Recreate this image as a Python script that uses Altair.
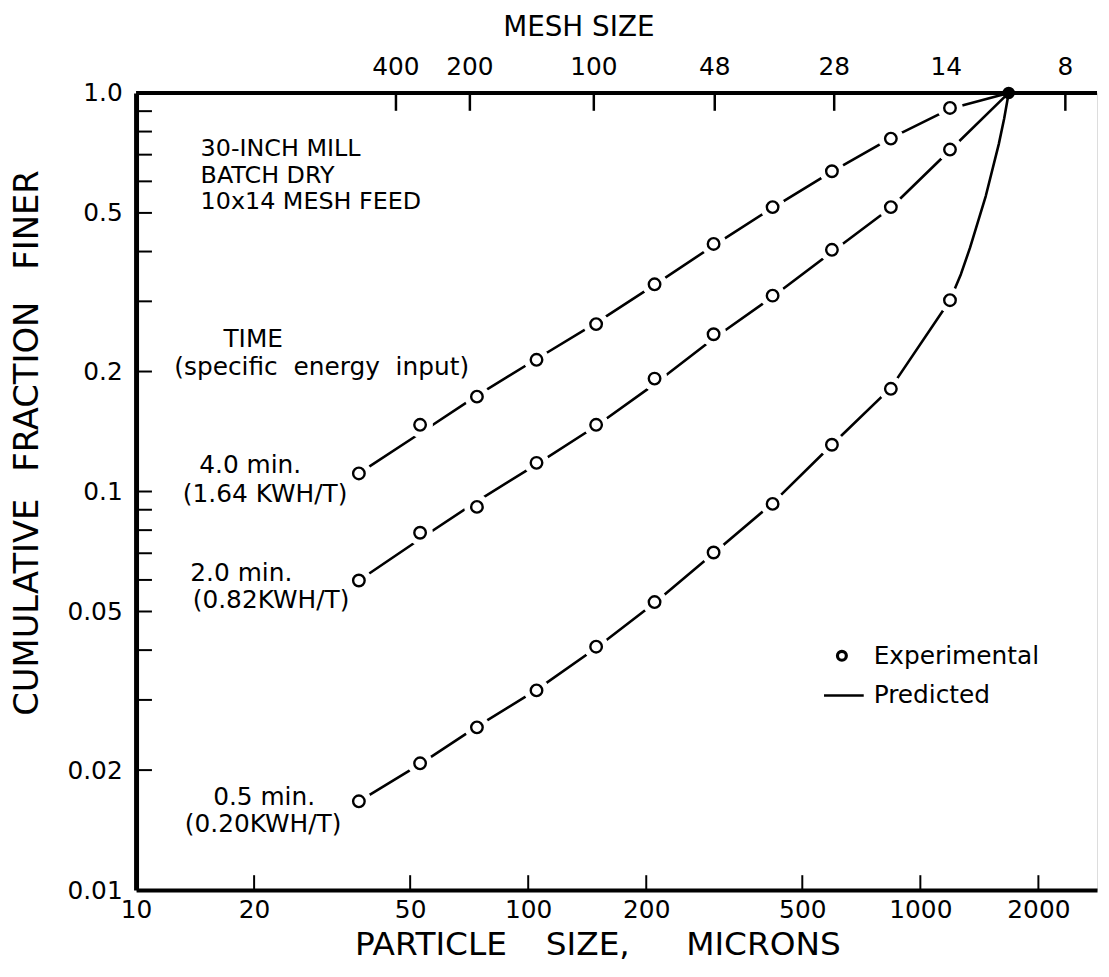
import altair as alt
import pandas as pd

# particle sizes (microns) of the sieve fractions
sizes = [37, 53, 74, 105, 149, 210, 297, 420, 595, 841, 1190, 1680]
series_names = ["4.0 min", "2.0 min", "0.5 min"]
# experimental cumulative fraction finer
e_40 = [0.111, 0.147, 0.173, 0.214, 0.263, 0.331, 0.418, 0.517, 0.636, 0.768, 0.917, 1.0]
e_20 = [0.0598, 0.0788, 0.0915, 0.118, 0.147, 0.192, 0.248, 0.310, 0.404, 0.517, 0.721, 1.0]
e_05 = [0.0167, 0.0208, 0.0256, 0.0317, 0.0408, 0.0528, 0.0703, 0.0931, 0.131, 0.181, 0.302, 1.0]
# predicted curves
ps_40 = [37, 53, 74, 105, 149, 210, 297, 420, 595, 841, 1190, 1680]
p_40 = [0.111, 0.140, 0.174, 0.215, 0.265, 0.330, 0.414, 0.515, 0.635, 0.770, 0.912, 1.0]
ps_20 = [37, 53, 74, 105, 149, 210, 297, 420, 595, 841, 1190, 1680]
p_20 = [0.0598, 0.0760, 0.0945, 0.1170, 0.1460, 0.1860, 0.2420, 0.3080, 0.3990, 0.5150, 0.7180, 1.0]
ps_05 = [37, 53, 74, 105, 149, 210, 297, 420, 595, 841, 1190, 1269, 1339, 1469, 1585, 1636, 1680]
p_05 = [0.0167, 0.0207, 0.0257, 0.0318, 0.0405, 0.0525, 0.0700, 0.0935, 0.1310, 0.1820, 0.3020,
        0.351, 0.409, 0.552, 0.744, 0.863, 1.0]

x_ticks = [10, 20, 50, 100, 200, 500, 1000, 2000]
x_inner_ticks = [20, 50, 100, 200, 500, 1000, 2000]
y_labels = [1.0, 0.5, 0.2, 0.1, 0.05, 0.02, 0.01]
y_minor = [0.9, 0.8, 0.7, 0.6, 0.5, 0.4, 0.3, 0.2, 0.1, 0.09, 0.08, 0.07, 0.06, 0.05, 0.04, 0.03, 0.02]
mesh_labels = ["400", "200", "100", "48", "28", "14", "8"]
mesh_pos = [46, 71, 147, 299, 603, 1164, 2343]
mesh_tick_pos = [46, 71, 147, 299, 603, 2343]

W, H = 968, 803
FONT = "DejaVu Sans"
NB = "\u00a0"

erows, prows = [], []
for name, ev in zip(series_names, [e_40, e_20, e_05]):
    for s, e in zip(sizes, ev):
        erows.append({"series": name, "size": s, "frac": e})
for name, sv, pv in zip(series_names, [ps_40, ps_20, ps_05], [p_40, p_20, p_05]):
    for i, (s, p) in enumerate(zip(sv, pv)):
        prows.append({"series": name, "size": s, "frac": p, "order": i})
edf = pd.DataFrame(erows)
pdf = pd.DataFrame(prows)

xs = alt.Scale(type="log", domain=[10, 2822], nice=False)
ys = alt.Scale(type="log", domain=[0.01, 1.0], nice=False)

X = alt.X("size:Q", scale=xs,
          axis=alt.Axis(values=x_ticks, format="d", ticks=False, grid=False, title=None,
                        domainColor="black", domainWidth=4, labelFontSize=25, labelFont=FONT,
                        labelColor="black", labelPadding=8, labelFlush=False, labelOverlap=False))
Y = alt.Y("frac:Q", scale=ys,
          axis=alt.Axis(values=y_labels, ticks=False, grid=False, title=None,
                        labelExpr="datum.value >= 1 ? '1.0' : toString(datum.value)",
                        domainColor="black", domainWidth=5, labelFontSize=25, labelFont=FONT,
                        labelColor="black", labelPadding=14, labelFlush=False, labelOverlap=False))

lines = alt.Chart(pdf).mark_line(interpolate="linear", color="black", strokeWidth=2.6,
                                 strokeJoin="round").encode(
    x=X, y=Y, detail="series:N", order="order:Q")

pts = edf[edf["frac"] < 1.0]
halo = alt.Chart(pts).mark_point(shape="circle", filled=True, fill="white", stroke="white",
                                 strokeWidth=1, size=620, opacity=1, fillOpacity=1).encode(
    x=alt.X("size:Q", scale=xs), y=alt.Y("frac:Q", scale=ys))
circles = alt.Chart(pts).mark_point(shape="circle", filled=False, color="black", strokeWidth=2.4,
                                    size=135, opacity=1).encode(
    x=alt.X("size:Q", scale=xs), y=alt.Y("frac:Q", scale=ys))
endpt = alt.Chart(edf[edf["frac"] >= 1.0].head(1)).mark_point(shape="circle", filled=True, color="black",
                                                            size=160, opacity=1).encode(
    x=alt.X("size:Q", scale=xs), y=alt.Y("frac:Q", scale=ys))

yminor = alt.Chart(pd.DataFrame({"v": y_minor})).mark_rule(color="black", strokeWidth=2).encode(
    y=alt.Y("v:Q", scale=ys), x=alt.value(0), x2=alt.value(16))
xinner = alt.Chart(pd.DataFrame({"v": x_inner_ticks})).mark_rule(color="black", strokeWidth=2).encode(
    x=alt.X("v:Q", scale=xs), y=alt.value(H), y2=alt.value(H - 15))
topticks = alt.Chart(pd.DataFrame({"v": mesh_tick_pos})).mark_rule(color="black", strokeWidth=2.5).encode(
    x=alt.X("v:Q", scale=xs), y=alt.value(0), y2=alt.value(18))
topline = alt.Chart(pd.DataFrame({"v": [0]})).mark_rule(color="black", strokeWidth=4).encode(
    x=alt.value(0), x2=alt.value(W), y=alt.value(0))
toplabels = alt.Chart(pd.DataFrame({"v": mesh_pos, "t": mesh_labels})).mark_text(
    font=FONT, fontSize=25, color="black", baseline="middle").encode(
    x=alt.X("v:Q", scale=xs), y=alt.value(-26), text="t:N")

# annotation text (pixel positions relative to plot area)
ann_c = pd.DataFrame({
    "t": ["TIME", "(specific" + NB + NB + "energy" + NB + NB + "input)", "4.0 min.", "(1.64 KWH/T)",
          "2.0 min.", "(0.82KWH/T)", "0.5 min.", "(0.20KWH/T)"],
    "px": [118, 187, 115, 130, 106, 136, 129, 128],
    "py": [248, 276, 375, 404, 484, 511, 709, 736],
})
texts_c = alt.Chart(ann_c).mark_text(font=FONT, color="black", baseline="middle", align="center",
                                     fontSize=25).encode(
    x=alt.X("px:Q", scale=None), y=alt.Y("py:Q", scale=None), text="t:N")

mill = alt.Chart(pd.DataFrame({"t": ["30-INCH MILL\nBATCH" + NB + "DRY\n10x14" + NB + "MESH" + NB + "FEED"],
                               "px": [65], "py": [45]})).mark_text(
    font=FONT, color="black", baseline="top", align="left", fontSize=24, lineBreak="\n",
    lineHeight=26.5).encode(
    x=alt.X("px:Q", scale=None), y=alt.Y("py:Q", scale=None), text="t:N")

ann_l = pd.DataFrame({
    "t": ["Experimental", "Predicted"],
    "px": [743, 743],
    "py": [567, 607],
})
texts_l = alt.Chart(ann_l).mark_text(font=FONT, color="black", baseline="middle", align="left",
                                     fontSize=25).encode(
    x=alt.X("px:Q", scale=None), y=alt.Y("py:Q", scale=None), text="t:N")

# axis titles, word by word
titles = pd.DataFrame({
    "t": ["MESH" + NB + "SIZE", "PARTICLE", "SIZE,", "MICRONS"],
    "px": [446, 297, 455, 632],
    "py": [-65, 858, 858, 858],
    "fs": [28, 33, 33, 33],
})
titles_m = alt.Chart(titles).mark_text(font=FONT, color="black", baseline="middle", align="center").encode(
    x=alt.X("px:Q", scale=None), y=alt.Y("py:Q", scale=None), text="t:N",
    size=alt.Size("fs:Q", scale=None))

ytitles = pd.DataFrame({
    "t": ["FINER", "FRACTION", "CUMULATIVE"],
    "px": [-109, -109, -109],
    "py": [128, 296, 518],
})
ytitle = alt.Chart(ytitles).mark_text(
    font=FONT, fontSize=34, color="black", angle=270, baseline="middle", align="center").encode(
    x=alt.X("px:Q", scale=None), y=alt.Y("py:Q", scale=None), text="t:N")

leg_pt = alt.Chart(pd.DataFrame({"px": [711], "py": [567]})).mark_point(
    shape="circle", filled=False, color="black", strokeWidth=3.2, size=80, opacity=1).encode(
    x=alt.X("px:Q", scale=None), y=alt.Y("py:Q", scale=None))
leg_line = alt.Chart(pd.DataFrame({"v": [0]})).mark_rule(color="black", strokeWidth=2.6).encode(
    x=alt.value(693), x2=alt.value(733), y=alt.value(607))

chart = alt.layer(
    lines, halo, circles, endpt, yminor, xinner, topticks, topline, toplabels,
    texts_c, mill, texts_l, titles_m, ytitle, leg_pt, leg_line
).properties(
    width=W, height=H,
    autosize=alt.AutoSizeParams(type="none"),
    padding={"left": 129, "top": 82, "right": 4, "bottom": 84},
).configure_view(stroke=None).configure(background="white")

chart.save("out.html", embed_options={"renderer": "svg", "actions": False})
